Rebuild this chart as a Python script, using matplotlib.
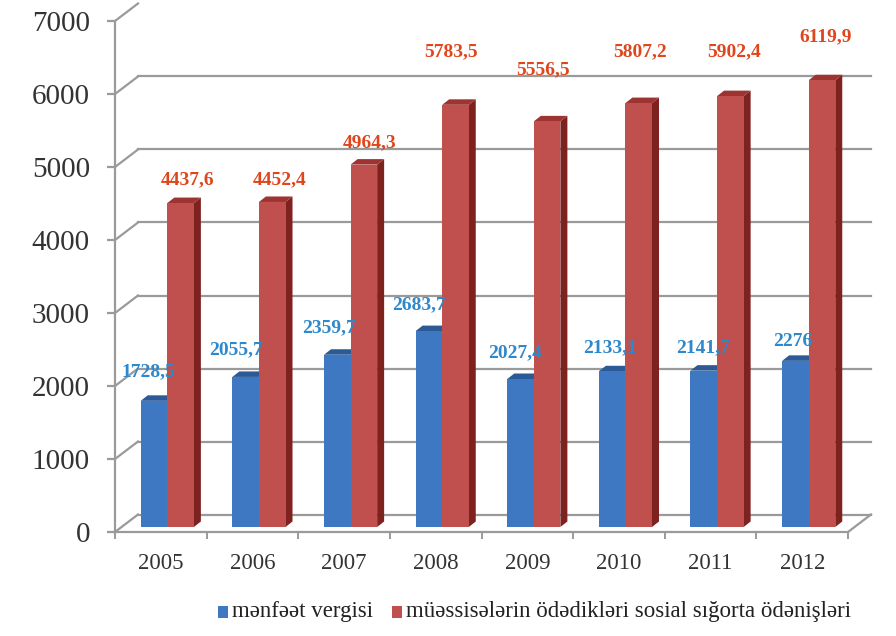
import matplotlib
matplotlib.use("Agg")
import matplotlib.pyplot as plt
from matplotlib.patches import Polygon, Rectangle
from matplotlib.transforms import ScaledTranslation

years = ["2005", "2006", "2007", "2008", "2009", "2010", "2011", "2012"]
profit_tax = [1728.5, 2055.7, 2359.7, 2683.7, 2027.4, 2133.1, 2141.7, 2276]
social_ins = [4437.6, 4452.4, 4964.3, 5783.5, 5556.5, 5807.2, 5902.4, 6119.9]
profit_lbl = ["1728,5", "2055,7", "2359,7", "2683,7", "2027,4", "2133,1", "2141,7", "2276"]
social_lbl = ["4437,6", "4452,4", "4964,3", "5783,5", "5556,5", "5807,2", "5902,4", "6119,9"]
series_names = ["mənfəət vergisi",
                "müəssisələrin ödədikləri sosial sığorta ödənişləri"]
yticks = [0, 1000, 2000, 3000, 4000, 5000, 6000, 7000]

# label offsets in pixels (dx, gap above bar top)
blue_off = [(-6, 29), (-10, 27), (-8, 27), (-10, 26), (-5, 26), (-2, 24), (-1, 23), (-3, 19)]
red_off = [(7, 23), (7, 22), (6, 22), (-4, 53), (-4, 52), (1, 51), (4, 44), (4, 44)]

FONT = ["Liberation Serif", "DejaVu Serif"]
BLUE, BLUE_TOP = "#3E78C2", "#2C5A96"
RED, RED_TOP, RED_SIDE = "#C0504D", "#9E3431", "#7E2220"
GRID = "#9A9A9A"

W, H, DPI = 896, 636, 100
fig = plt.figure(figsize=(W / DPI, H / DPI), dpi=DPI)
fig.patch.set_facecolor("white")
L, R, B, T = 115, 848, 532, 21
ax = fig.add_axes([L / W, (H - B) / H, (R - L) / W, (B - T) / H])
n = len(years)
ax.set_xlim(-0.5, n - 0.5)
ax.set_ylim(0, 7000)
pxx = n / (R - L)
pxy = 7000 / (B - T)

# wall geometry
WDX, WDY = 23 * pxx, 17.5 * pxy
x0w, x1w = -0.5, n - 0.5
for y in yticks:
    ax.plot([x0w, x0w + WDX], [y, y + WDY], color=GRID, lw=1.6, clip_on=False, zorder=1)
    if y < 7000:
        ax.plot([x0w + WDX, x1w + WDX], [y + WDY, y + WDY], color=GRID, lw=1.6,
                clip_on=False, zorder=1)
ax.plot([x1w, x1w + WDX], [0, WDY], color=GRID, lw=1.6, clip_on=False, zorder=1)

# bars
off_front = ScaledTranslation(6.5 / DPI, 5 / DPI, fig.dpi_scale_trans)
trf = ax.transData + off_front
bw = 0.29
DDX, DDY = 7 * pxx, 5.5 * pxy
for i in range(n):
    for val, x0, fc, tc, sc in [(profit_tax[i], i - bw, BLUE, BLUE_TOP, BLUE_TOP),
                                (social_ins[i], i, RED, RED_TOP, RED_SIDE)]:
        x1 = x0 + bw
        side = Polygon([(x1, 0), (x1, val), (x1 + DDX, val + DDY), (x1 + DDX, DDY)],
                       closed=True, facecolor=sc, edgecolor="none", transform=trf,
                       clip_on=False, zorder=3)
        ax.add_patch(side)
        top = Polygon([(x0, val), (x1, val), (x1 + DDX, val + DDY), (x0 + DDX, val + DDY)],
                      closed=True, facecolor=tc, edgecolor="none", transform=trf,
                      clip_on=False, zorder=3)
        ax.add_patch(top)
    ax.bar([i - bw], [profit_tax[i]], width=bw, align="edge", color=BLUE,
           transform=trf, clip_on=False, zorder=4)
    ax.bar([i], [social_ins[i]], width=bw, align="edge", color=RED,
           transform=trf, clip_on=False, zorder=4)

# data labels
for i in range(n):
    dx, dy = blue_off[i]
    ax.annotate(profit_lbl[i], xy=(i - bw / 2, profit_tax[i]), xycoords=trf,
                xytext=(dx * 0.72, dy * 0.72), textcoords="offset points",
                ha="center", va="center", fontsize=14, fontweight="bold",
                color="#2E88CC", family=FONT, zorder=6, annotation_clip=False)
    dx, dy = red_off[i]
    ax.annotate(social_lbl[i], xy=(i + bw / 2, social_ins[i]), xycoords=trf,
                xytext=(dx * 0.72, dy * 0.72), textcoords="offset points",
                ha="center", va="center", fontsize=14, fontweight="bold",
                color="#E0461C", family=FONT, zorder=6, annotation_clip=False)

# axes styling
for s in ["top", "right"]:
    ax.spines[s].set_visible(False)
for s in ["left", "bottom"]:
    ax.spines[s].set_color(GRID)
    ax.spines[s].set_linewidth(1.6)
    ax.spines[s].set_zorder(2)
ax.set_facecolor("none")
ax.set_yticks(yticks)
ax.set_yticklabels([str(v) for v in yticks], fontsize=21, family=FONT, color="#333333")
ax.tick_params(axis="y", direction="out", length=6, width=1.6, color=GRID, pad=12)
ax.set_xticks(range(n))
ax.set_xticklabels(years, fontsize=16.5, family=FONT, color="#333333")
ax.tick_params(axis="x", which="major", length=0, pad=15)
ax.set_xticks([k - 0.5 for k in range(n + 1)], minor=True)
ax.tick_params(axis="x", which="minor", direction="out", length=5, width=1.4, color=GRID)

# legend (manual, in figure pixels)
leg_items = [(218, BLUE, series_names[0]), (392, RED, series_names[1])]
for xpx, col, name in leg_items:
    fig.patches.append(Rectangle((xpx / W, 1 - 618 / H), 10 / W, 12 / H,
                                 facecolor=col, edgecolor="none",
                                 transform=fig.transFigure, figure=fig))
    fig.text((xpx + 14) / W, 1 - 612 / H, name, ha="left", va="center",
             fontsize=16.5, family=FONT, color="#222222")

fig.savefig("out.png", dpi=DPI, facecolor="white")
